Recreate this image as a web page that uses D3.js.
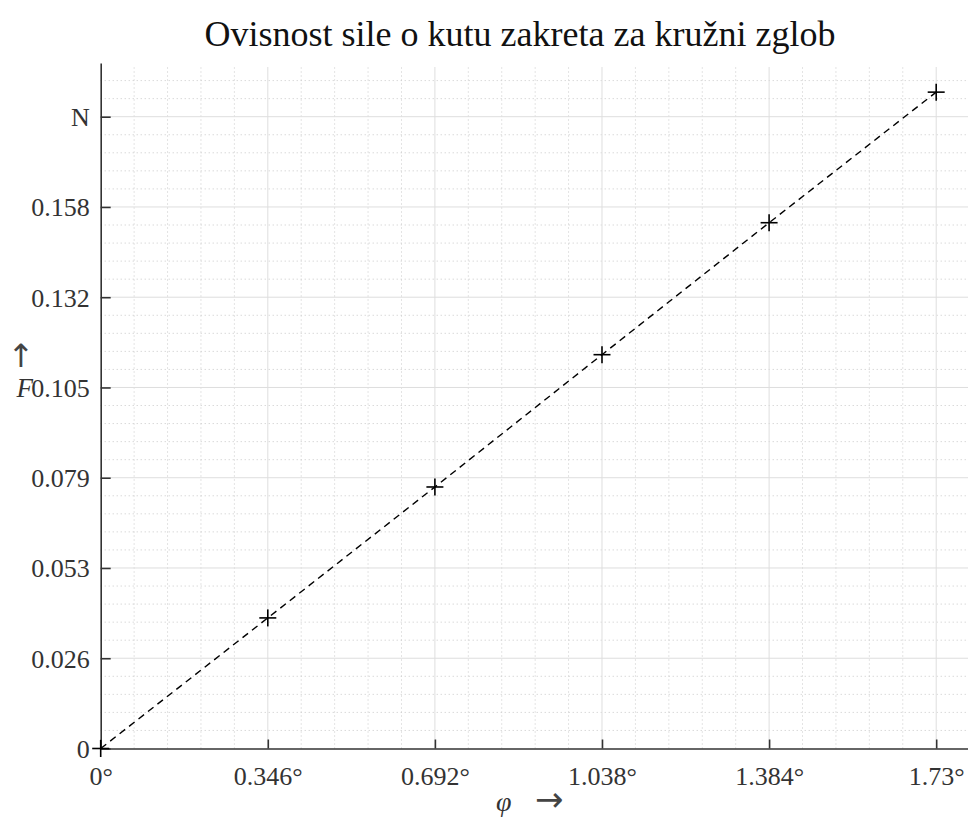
<!DOCTYPE html>
<html>
<head>
<meta charset="utf-8">
<script src="https://cdn.jsdelivr.net/npm/d3@7"></script>
<style>
  html, body { margin: 0; padding: 0; background: #fff; }
  svg { display: block; }
</style>
</head>
<body>
<svg id="chart" width="968" height="823"></svg>
<script>
// ---- data ----
const titleText = "Ovisnost sile o kutu zakreta za kružni zglob";
const angles = [0, 0.346, 0.692, 1.038, 1.384, 1.73];          // φ in degrees
const forces = [0, 0.0381, 0.0763, 0.1149, 0.1534, 0.1915];     // F
const xTicks = [0, 0.346, 0.692, 1.038, 1.384, 1.73];
const xTickLabels = ["0°", "0.346°", "0.692°", "1.038°", "1.384°", "1.73°"];
const yTicks = [0, 0.026333, 0.052667, 0.079, 0.105333, 0.131667, 0.158, 0.184333];
const yTickLabels = ["0", "0.026", "0.053", "0.079", "0.105", "0.132", "0.158", "N"];

(function () {
const svg = d3.select("#chart");
const serif = "Liberation Serif, Times New Roman, serif";
const pLeft = 100.7, pRight = 970, pTop = 63, pBottom = 748.5;
const x = d3.scaleLinear().domain([0, 1.8]).range([pLeft, pRight]);
const y = d3.scaleLinear().domain([0, 0.2]).range([pBottom, pTop]);

// minor grid
const xStep = 0.346 / 5, yStep = 0.026333 / 5;
const xMinor = d3.range(0, 1.8 + 1e-9, xStep).filter((v, i) => i % 5 !== 0);
const yMinor = d3.range(0, 0.2 + 1e-9, yStep).filter((v, i) => i % 5 !== 0);
const g = svg.append("g");
g.selectAll("line.xm").data(xMinor).join("line")
  .attr("x1", d => x(d)).attr("x2", d => x(d)).attr("y1", y(0)).attr("y2", pTop + 4)
  .attr("stroke", "#c8c8c8").attr("stroke-width", 1).attr("stroke-dasharray", "1,3");
g.selectAll("line.ym").data(yMinor).join("line")
  .attr("y1", d => y(d)).attr("y2", d => y(d)).attr("x1", x(0)).attr("x2", pRight)
  .attr("stroke", "#c8c8c8").attr("stroke-width", 1).attr("stroke-dasharray", "1,3");
// major grid
g.selectAll("line.xM").data(xTicks.slice(1)).join("line")
  .attr("x1", d => x(d)).attr("x2", d => x(d)).attr("y1", y(0)).attr("y2", pTop + 4)
  .attr("stroke", "#dedede").attr("stroke-width", 1);
g.selectAll("line.yM").data(yTicks.slice(1)).join("line")
  .attr("y1", d => y(d)).attr("y2", d => y(d)).attr("x1", x(0)).attr("x2", pRight)
  .attr("stroke", "#dedede").attr("stroke-width", 1);

// axes
const xAxis = d3.axisBottom(x).tickValues(xTicks).tickFormat((d, i) => xTickLabels[i]).tickSize(-9).tickSizeOuter(0).tickPadding(18);
const yAxis = d3.axisLeft(y).tickValues(yTicks).tickFormat((d, i) => yTickLabels[i]).tickSize(-10).tickSizeOuter(0).tickPadding(11);
const gx = svg.append("g").attr("transform", `translate(0,${y(0)})`).call(xAxis);
const gy = svg.append("g").attr("transform", `translate(${x(0)},0)`).call(yAxis);
[gx, gy].forEach(a => {
  a.select(".domain").attr("stroke", "#333").attr("stroke-width", 1.6);
  a.selectAll(".tick line").attr("stroke", "#333").attr("stroke-width", 1.6);
  a.selectAll(".tick text").attr("font-family", serif).attr("font-size", 26).attr("fill", "#333");
});
gx.selectAll(".tick text").attr("dy", "0.71em");
gy.selectAll(".tick text").attr("dy", "0.34em");

// data line
svg.append("path").datum(angles.map((a, i) => [a, forces[i]]))
  .attr("d", d3.line().x(d => x(d[0])).y(d => y(d[1])))
  .attr("fill", "none").attr("stroke", "#000").attr("stroke-width", 1.4).attr("stroke-dasharray", "7,5");

// markers
const m = 8.5;
const mk = svg.append("g").selectAll("g").data(angles.map((a, i) => [a, forces[i]])).join("g")
  .attr("transform", d => `translate(${x(d[0])},${y(d[1])})`);
mk.append("line").attr("x1", -m).attr("x2", m).attr("stroke", "#000").attr("stroke-width", 1.6);
mk.append("line").attr("y1", -m).attr("y2", m).attr("stroke", "#000").attr("stroke-width", 1.6);

// title
svg.append("text").attr("x", 520).attr("y", 46).attr("text-anchor", "middle")
  .attr("font-family", serif).attr("font-size", 36).attr("fill", "#111")
  .text(titleText);

// axis labels
svg.append("text").attr("x", 21).attr("y", 367).attr("text-anchor", "middle")
  .attr("font-family", "DejaVu Sans, sans-serif").attr("font-size", 32).attr("fill", "#444").text("↑");
svg.append("text").attr("x", 33).attr("y", y(0.105333)).attr("dy", "0.34em").attr("text-anchor", "end")
  .attr("font-family", serif).attr("font-size", 27).attr("font-style", "italic").attr("fill", "#333").text("F");

svg.append("text").attr("x", 496).attr("y", 811).attr("text-anchor", "start")
  .attr("font-family", serif).attr("font-size", 28).attr("font-style", "italic").attr("fill", "#333").text("φ");
svg.append("text").attr("x", 535).attr("y", 811).attr("text-anchor", "start")
  .attr("font-family", "DejaVu Sans, sans-serif").attr("font-size", 34).attr("fill", "#444").text("→");
})();
</script>
</body>
</html>
